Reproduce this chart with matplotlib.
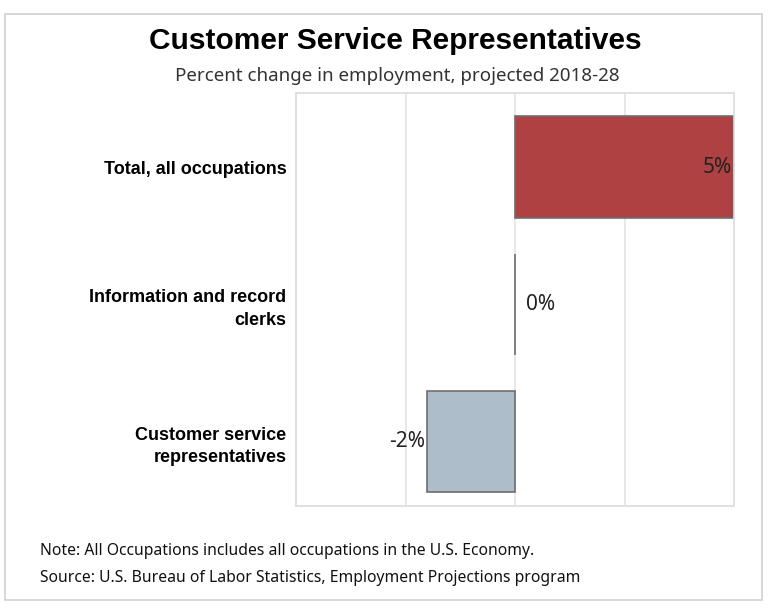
import matplotlib.pyplot as plt
import matplotlib.patches as mpatches

# Data
categories = ['Total, all occupations', 'Information and record\nclerks', 'Customer service\nrepresentatives']
values = [5, 0, -2]
value_labels = ['5%', '0%', '-2%']
bar_colors = ['#B04143', '#8C9BA8', '#ADBDC9']

fig = plt.figure(figsize=(7.68, 6.13), dpi=100)

# outer frame
fig.patches.append(mpatches.Rectangle((5/768, 1-600/613), 757/768, 586/613, transform=fig.transFigure,
                                      fill=False, edgecolor='#d0d0d0', linewidth=1.2))

ax = fig.add_axes([296/768, 1-506/613, 438/768, 413/613])
y = list(range(len(categories)))
ax.barh(y, values, height=0.74, color=bar_colors, edgecolor='#6e6e6e', linewidth=1.2, zorder=2)
ax.set_xlim(-5, 5)
ax.set_ylim(2.47, -0.54)
ax.set_xticks([-2.5, 0, 2.5])
ax.tick_params(axis='x', length=0, labelbottom=False)
ax.tick_params(axis='y', length=0)
ax.grid(axis='x', color='#e4e4e4', linewidth=1.2, zorder=0)
for s in ax.spines.values():
    s.set_color('#dcdcdc')
    s.set_linewidth(1.2)
ax.set_yticks(y)
ax.set_yticklabels(categories, fontsize=13, fontweight='bold', family='Liberation Sans', linespacing=1.4)
ax.tick_params(axis='y', pad=7)

# value labels
for i, (v, lab) in enumerate(zip(values, value_labels)):
    if v > 0:
        ax.text(v - 0.05, i, lab, ha='right', va='center', fontsize=15, color='#222222', family='Noto Sans')
    elif v < 0:
        ax.text(v - 0.05, i, lab, ha='right', va='center', fontsize=15, color='#222222', family='Noto Sans')
    else:
        ax.text(v + 0.25, i, lab, ha='left', va='center', fontsize=15, color='#222222', family='Noto Sans')

fig.text(395/768, 1-41/613, 'Customer Service Representatives', ha='center', va='center',
         fontsize=21.5, fontweight='bold', family='Liberation Sans')
fig.text(397/768, 1-76/613, 'Percent change in employment, projected 2018-28', ha='center', va='center',
         fontsize=13.5, color='#333333', family='Noto Sans')
fig.text(40/768, 1-551/613, 'Note: All Occupations includes all occupations in the U.S. Economy.', ha='left', va='center',
         fontsize=11.3, color='#111111', family='Noto Sans')
fig.text(40/768, 1-578/613, 'Source: U.S. Bureau of Labor Statistics, Employment Projections program', ha='left', va='center',
         fontsize=11.3, color='#111111', family='Noto Sans')

fig.savefig('out.png', dpi=100)
